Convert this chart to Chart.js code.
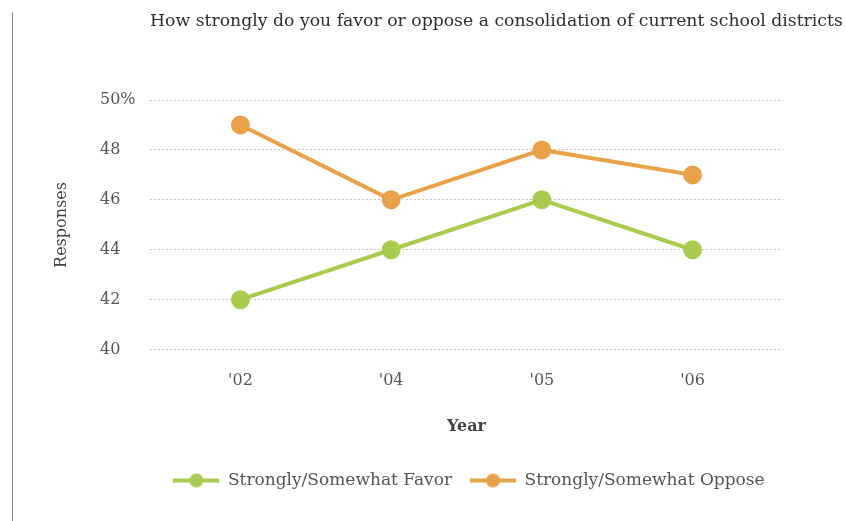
<!DOCTYPE html>
<html>
<head>
<meta charset="utf-8">
<script src="https://cdn.jsdelivr.net/npm/chart.js@4/dist/chart.umd.min.js"></script>
<style>
  html, body { margin: 0; padding: 0; background: #ffffff; }
  #wrap { width: 845px; height: 521px; position: relative; }
</style>
</head>
<body>
<div id="wrap"><canvas id="c" width="845" height="521"></canvas></div>
<script>
const titleText = 'How strongly do you favor or oppose a consolidation of current school districts';
const yAxisTitle = 'Responses';
const xAxisTitle = 'Year';
const xLabels = ["'02", "'04", "'05", "'06"];
const favorName = 'Strongly/Somewhat Favor';
const opposeName = 'Strongly/Somewhat Oppose';
const favorValues = [42, 44, 46, 44];
const opposeValues = [49, 46, 48, 47];
const yTickValues = [40, 42, 44, 46, 48, 50];

const GREEN = '#a9cb4f';
const ORANGE = '#e9a24a';
const FONT = "'DejaVu Serif', 'Liberation Serif', serif";

function legendIcon(color) {
  const cv = document.createElement('canvas');
  cv.width = 46; cv.height = 16;
  const g = cv.getContext('2d');
  g.strokeStyle = color; g.lineWidth = 4;
  g.beginPath(); g.moveTo(0, 8); g.lineTo(46, 8); g.stroke();
  g.fillStyle = color;
  g.beginPath(); g.arc(23, 8, 7, 0, Math.PI * 2); g.fill();
  return cv;
}

const decor = {
  id: 'decor',
  afterDraw(chart) {
    const ctx = chart.ctx;
    ctx.save();
    ctx.strokeStyle = '#8a8a8a';
    ctx.lineWidth = 1;
    ctx.beginPath(); ctx.moveTo(12.5, 12); ctx.lineTo(12.5, 521); ctx.stroke();
    ctx.fillStyle = '#2e2e2e';
    ctx.font = '17.25px ' + FONT;
    ctx.textAlign = 'left';
    ctx.textBaseline = 'middle';
    ctx.fillText(titleText, 150, 22);
    ctx.translate(62, 225);
    ctx.rotate(-Math.PI / 2);
    ctx.textAlign = 'center';
    ctx.font = '16px ' + FONT;
    ctx.fillStyle = '#444444';
    ctx.fillText(yAxisTitle, 0, 0);
    ctx.restore();
  }
};

const data = {
  datasets: [
    {
      label: favorName,
      data: favorValues.map((v, i) => ({ x: i, y: v })),
      borderColor: GREEN, backgroundColor: GREEN,
      pointBackgroundColor: GREEN, pointBorderColor: GREEN,
      borderWidth: 4, pointRadius: 7.5, pointHoverRadius: 7.5, tension: 0
    },
    {
      label: opposeName,
      data: opposeValues.map((v, i) => ({ x: i, y: v })),
      borderColor: ORANGE, backgroundColor: ORANGE,
      pointBackgroundColor: ORANGE, pointBorderColor: ORANGE,
      borderWidth: 4, pointRadius: 7.5, pointHoverRadius: 7.5, tension: 0
    }
  ]
};

new Chart(document.getElementById('c'), {
  type: 'line',
  data,
  plugins: [decor],
  options: {
    responsive: false,
    animation: false,
    layout: { padding: { left: 100, top: 100, right: 7, bottom: 22 } },
    scales: {
      x: {
        type: 'linear',
        min: -0.6, max: 3.6,
        afterBuildTicks: s => { s.ticks = xLabels.map((_, i) => ({ value: i })); },
        grid: { display: false, drawTicks: false },
        border: { display: false },
        ticks: {
          padding: 22,
          color: '#555555',
          font: { family: FONT, size: 16 },
          callback: v => xLabels[v]
        },
        title: {
          display: true, text: xAxisTitle, color: '#444444',
          font: { family: FONT, size: 16, weight: 'bold' },
          padding: { top: 4, bottom: 18 }
        }
      },
      y: {
        min: 40, max: 50,
        afterBuildTicks: s => { s.ticks = yTickValues.map(v => ({ value: v })); },
        afterFit: s => { s.width = 50; },
        grid: { color: '#c4c4c4', lineWidth: 1, drawTicks: false },
        border: { display: false, dash: [2, 2] },
        ticks: {
          crossAlign: 'far',
          color: '#555555',
          font: { family: FONT, size: 16 },
          callback: v => (v === 50 ? '50%' : String(v))
        }
      },
      y2: {
        position: 'right',
        display: true,
        afterFit: s => { s.width = 55; },
        grid: { display: false, drawTicks: false },
        border: { display: false },
        ticks: { display: false }
      }
    },
    plugins: {
      title: { display: false },
      tooltip: { enabled: false },
      legend: {
        position: 'bottom',
        labels: {
          usePointStyle: true,
          pointStyleWidth: 46,
          padding: 18,
          color: '#555555',
          font: { family: FONT, size: 17 },
          generateLabels: chart => chart.data.datasets.map((ds, i) => ({
            text: ds.label,
            pointStyle: legendIcon(ds.borderColor),
            fillStyle: ds.borderColor,
            strokeStyle: ds.borderColor,
            lineWidth: 0,
            hidden: false,
            datasetIndex: i,
            fontColor: '#555555'
          }))
        }
      }
    }
  }
});
</script>
</body>
</html>
